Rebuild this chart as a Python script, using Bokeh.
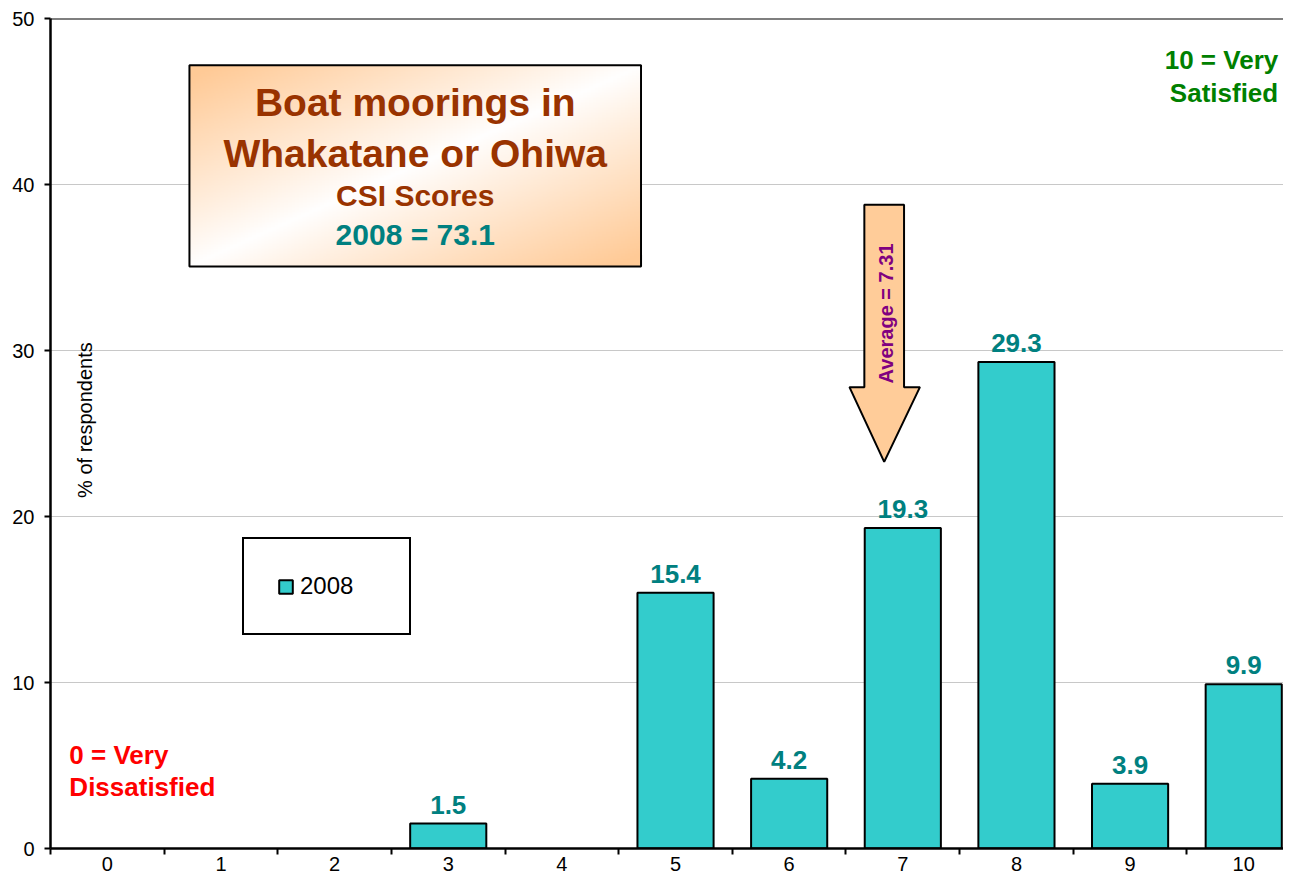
import numpy as np
from bokeh.plotting import figure
from bokeh.models import FixedTicker, Span, ColumnDataSource, CDSView, BooleanFilter
from bokeh.core.properties import value
from bokeh.embed import file_html
from bokeh.resources import INLINE

# ---------------- data ----------------
scores = list(range(11))
tick_labels = [str(s) for s in scores]
pct_2008 = [0, 0, 0, 1.5, 0, 15.4, 4.2, 19.3, 29.3, 3.9, 9.9]
series_name = "2008"
average_score = 7.31
csi_score = 73.1
title_lines = ["Boat moorings in", "Whakatane or Ohiwa", "CSI Scores"]
low_label = ["0 = Very", "Dissatisfied"]
high_label = ["10 = Very", "Satisfied"]
y_ticks = [0, 10, 20, 30, 40, 50]

# ---------------- layout ----------------
FONT = "Liberation Sans"
FIG_W, FIG_H = 1283, 878
FRAME_L, FRAME_T, BOTTOM_BORDER = 50, 18, 30
X0, X1 = -0.5, 10.35
Y0, Y1 = 0, 50

# reference-pixel -> data helpers (for annotation placement)
REF_L, REF_T, REF_B, REF_CAT = 50, 18, 851, 114.5


def dx(sx):
    return X0 + (sx - REF_L) / REF_CAT


def dy(sy):
    return (REF_B - sy) / ((REF_B - REF_T) / (Y1 - Y0))


p = figure(width=FIG_W, height=FIG_H, x_range=(X0, X1), y_range=(Y0, Y1),
           output_backend="svg", toolbar_location=None,
           min_border_left=FRAME_L, min_border_top=FRAME_T,
           min_border_right=0, min_border_bottom=BOTTOM_BORDER)
p.outline_line_color = None
p.background_fill_color = "white"
p.border_fill_color = "white"

# grid
p.xgrid.grid_line_color = None
p.ygrid.ticker = FixedTicker(ticks=y_ticks)
p.ygrid.grid_line_color = "#C8C8C8"
p.ygrid.grid_line_width = 1

# y axis
p.yaxis.ticker = FixedTicker(ticks=y_ticks)
p.yaxis.axis_line_width = 2.5
p.yaxis.axis_line_color = "black"
p.yaxis.major_tick_line_width = 2
p.yaxis.major_tick_out = 6
p.yaxis.major_tick_in = 0
p.yaxis.minor_tick_line_color = None
p.yaxis.major_label_standoff = 10
p.yaxis.major_label_text_font = FONT
p.yaxis.major_label_text_font_size = "20px"
p.yaxis.major_label_text_color = "black"

# x axis: labels at category centres, ticks at category boundaries
p.xaxis.ticker = FixedTicker(ticks=scores,
                             minor_ticks=[s - 0.5 for s in scores] + [scores[-1] + 0.5])
p.xaxis.major_label_overrides = {s: l for s, l in zip(scores, tick_labels)}
p.xaxis.axis_line_width = 2.5
p.xaxis.axis_line_color = "black"
p.xaxis.major_tick_line_color = None
p.xaxis.major_tick_out = 6
p.xaxis.major_tick_in = 0
p.xaxis.minor_tick_line_color = "black"
p.xaxis.minor_tick_line_width = 2
p.xaxis.minor_tick_out = 6
p.xaxis.minor_tick_in = 0
p.xaxis.major_label_standoff = 2
p.xaxis.major_label_text_font = FONT
p.xaxis.major_label_text_font_size = "20px"
p.xaxis.major_label_text_color = "black"

# top border line
p.add_layout(Span(location=Y1, dimension="width", line_color="black", line_width=2))

# bars (zero-height categories are not drawn)
src = ColumnDataSource(dict(score=scores, pct=pct_2008))
view = CDSView(filter=BooleanFilter([v > 0 for v in pct_2008]))
p.vbar(x="score", top="pct", width=0.67, source=src, view=view, fill_color="#33CCCC",
       line_color="black", line_width=2, legend_label=series_name)

# value labels
lab_x = [s for s, v in zip(scores, pct_2008) if v > 0]
lab_y = [v for v in pct_2008 if v > 0]
lab_t = [f"{v:.1f}" for v in lab_y]
p.text(x=lab_x, y=lab_y, text=lab_t, y_offset=-19, text_align="center",
       text_baseline="alphabetic", text_font=value(FONT), text_font_style="bold",
       text_font_size="26px", text_color="#008080")

# legend
lg = p.legend[0]
lg.location = (192, 213)
lg.border_line_color = "black"
lg.border_line_alpha = 1
lg.border_line_width = 2
lg.background_fill_color = "white"
lg.background_fill_alpha = 1
lg.padding = 33
lg.glyph_width = 17
lg.glyph_height = 17
lg.label_standoff = 6
lg.label_width = 76
lg.label_text_font = FONT
lg.label_text_font_size = "24px"
lg.label_text_color = "black"

# y-axis title inside the plot
p.text(x=[dx(85)], y=[dy(421)], text=["% of respondents"], angle=np.pi / 2,
       text_align="center", text_baseline="middle", text_font=value(FONT),
       text_font_size="20px", text_color="black")

# title box with diagonal gradient
bl, br, bt, bb = dx(190), dx(645), dy(65), dy(267)
H, W = 120, 240
u = np.linspace(0, 1, W)[None, :]
v = np.linspace(0, 1, H)[:, None]
w = np.clip(np.abs(u - v) * 1.05, 0, 1) ** 0.95
img = np.empty((H, W), dtype=np.uint32)
px = img.view(dtype=np.uint8).reshape((H, W, 4))
px[..., 0] = 255
px[..., 1] = (255 - (255 - 202) * w).astype(np.uint8)
px[..., 2] = (255 - (255 - 150) * w).astype(np.uint8)
px[..., 3] = 255
p.image_rgba(image=[img], x=bl, y=bb, dw=br - bl, dh=bt - bb)
p.quad(left=[bl], right=[br], top=[bt], bottom=[bb], fill_color=None,
       line_color="black", line_width=2)

cx = dx(417.5)
p.text(x=[cx, cx], y=[dy(102), dy(153)], text=title_lines[:2], text_align="center",
       text_baseline="alphabetic", text_font=value(FONT), text_font_style="bold",
       text_font_size="39px", text_color="#993300")
p.text(x=[cx], y=[dy(196)], text=[title_lines[2]], text_align="center",
       text_baseline="alphabetic", text_font=value(FONT), text_font_style="bold",
       text_font_size="30px", text_color="#993300")
p.text(x=[cx], y=[dy(235)], text=[f"{series_name} = {csi_score}"], text_align="center",
       text_baseline="alphabetic", text_font=value(FONT), text_font_style="bold",
       text_font_size="30px", text_color="#008080")

# average arrow
ax = [dx(870), dx(910), dx(910), dx(926), dx(890), dx(855), dx(870)]
ay = [dy(205), dy(205), dy(388), dy(388), dy(463), dy(388), dy(388)]
p.patch(x=ax, y=ay, fill_color="#FFCC99", line_color="black", line_width=2)
p.text(x=[dx(892)], y=[dy(314)], text=[f"Average = {average_score}"], angle=np.pi / 2,
       text_align="center", text_baseline="middle", text_font=value(FONT),
       text_font_style="bold", text_font_size="20px", text_color="#800080")

# end labels
p.text(x=[dx(69)] * 2, y=[dy(757), dy(789)], text=low_label, text_align="left",
       text_baseline="alphabetic", text_font=value(FONT), text_font_style="bold",
       text_font_size="26px", text_color="#FF0000")
p.text(x=[dx(1287)] * 2, y=[dy(60), dy(93)], text=high_label, text_align="right",
       text_baseline="alphabetic", text_font=value(FONT), text_font_style="bold",
       text_font_size="26px", text_color="#008000")

open("out.html", "w").write(file_html(p, INLINE))
